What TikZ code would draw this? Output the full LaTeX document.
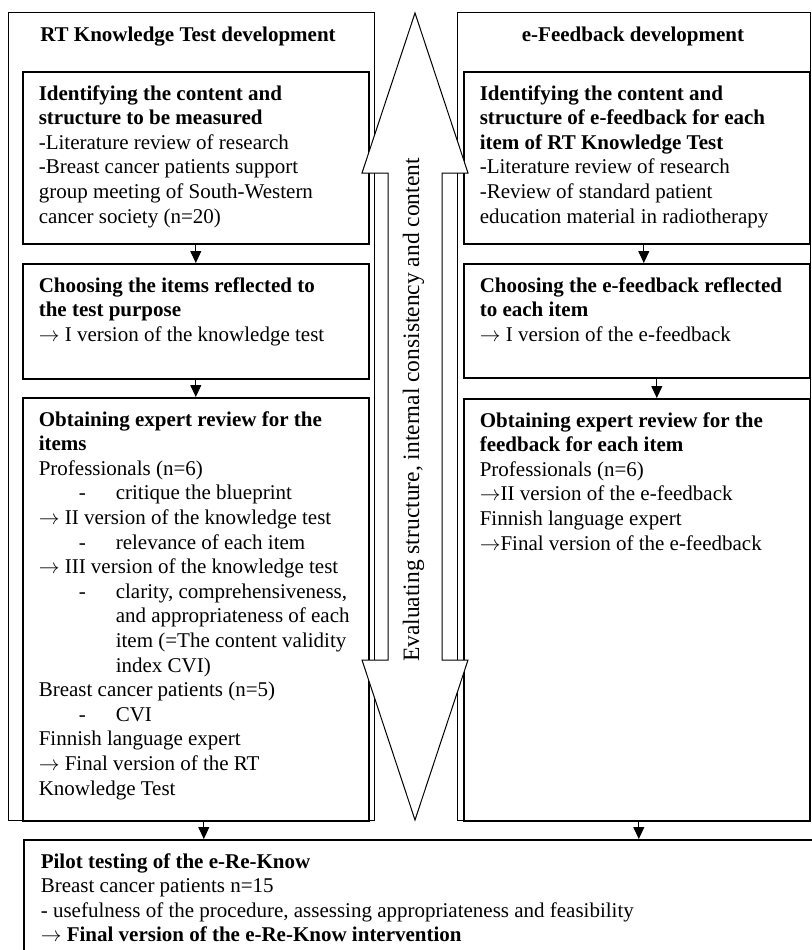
\documentclass[tikz,border=0pt]{standalone}
\usepackage{fontspec}
\setmainfont{Liberation Serif}
\usetikzlibrary{arrows.meta}
\newcommand{\bodyfont}{\fontsize{21}{24.6}\selectfont}
\newcommand{\stagetext}[3]{\parbox[c][#1][t]{#2}{\raggedright\vspace*{13.5pt}#3}}
\newcommand{\dashline}{\makebox[77pt][l]{\hspace*{40pt}-}}
\newcommand{\gapline}{\hspace*{77pt}}
\newcommand{\nextarrow}{$\rightarrow$}
\begin{document}
\begin{tikzpicture}[x=1pt,y=-1pt,font=\bodyfont,
    outerbox/.style={draw,line width=1pt},
    stagebox/.style={draw,line width=1.6pt,anchor=north west,inner xsep=16pt,inner ysep=0pt},
    flowarrow/.style={-{Triangle[length=12pt,width=11pt]},line width=1pt}]
  \useasboundingbox (0,0) rectangle (811,950);
  % the two development columns
  \draw[outerbox] (8,13) rectangle (374,820);
  \draw[outerbox] (457,13) rectangle (810,820);
  \node[anchor=base,font=\bodyfont\bfseries] (lefttitle) at (188,42) {RT Knowledge Test development};
  \node[anchor=base,font=\bodyfont\bfseries] (righttitle) at (633,42) {e-Feedback development};
  % knowledge test steps
  \node[stagebox] (lident) at (22,71) {\stagetext{172pt}{314pt}{\textbf{Identifying the content and\\structure to be measured}\\-Literature review of research\\-Breast cancer patients support\\group meeting of South-Western\\cancer society (n=20)}};
  \node[stagebox] (lchoose) at (22,263) {\stagetext{115pt}{314pt}{\textbf{Choosing the items reflected to\\the test purpose}\\\nextarrow{} I version of the knowledge test}};
  \node[stagebox] (lreview) at (22,397) {\stagetext{423pt}{314pt}{\textbf{Obtaining expert review for the\\items}\\Professionals (n=6)\\\dashline critique the blueprint\\\nextarrow{} II version of the knowledge test\\\dashline relevance of each item\\\nextarrow{} III version of the knowledge test\\\dashline clarity, comprehensiveness,\\\gapline and appropriateness of each\\\gapline item (=The content validity\\\gapline index CVI)\\Breast cancer patients (n=5)\\\dashline CVI\\Finnish language expert\\\nextarrow{} Final version of the RT\\Knowledge Test}};
  % feedback steps
  \node[stagebox] (rident) at (463,71) {\stagetext{172pt}{314pt}{\textbf{Identifying the content and\\structure of e-feedback for each\\item of RT Knowledge Test}\\-Literature review of research\\-Review of standard patient\\education material in radiotherapy}};
  \node[stagebox] (rchoose) at (463,263) {\stagetext{114pt}{314pt}{\textbf{Choosing the e-feedback reflected\\to each item}\\\nextarrow{} I version of the e-feedback}};
  \node[stagebox] (rreview) at (463,398) {\stagetext{422pt}{314pt}{\textbf{Obtaining expert review for the\\feedback for each item}\\Professionals (n=6)\\\nextarrow II version of the e-feedback\\Finnish language expert\\\nextarrow Final version of the e-feedback}};
  % pilot
  \node[stagebox,inner xsep=17pt] (pilot) at (23,839) {\stagetext{120pt}{760pt}{\textbf{Pilot testing of the e-Re-Know}\\Breast cancer patients n=15\\- usefulness of the procedure, assessing appropriateness and feasibility\\\nextarrow{} \textbf{Final version of the e-Re-Know intervention}}};
  \draw[flowarrow] (lident) -- (lchoose);
  \draw[flowarrow] (lchoose) -- (lreview);
  \draw[flowarrow] ([xshift=7pt]rident.south) -- ([xshift=7pt]rchoose.north);
  \draw[flowarrow] ([xshift=20pt]rchoose.south) -- ([xshift=20pt]rreview.north);
  \draw[flowarrow] ([xshift=8pt]lreview.south) -- ([xshift=8pt]lreview.south |- pilot.north);
  \draw[flowarrow] ([xshift=2pt]rreview.south) -- ([xshift=2pt]rreview.south |- pilot.north);
  % evaluation double arrow
  \draw[line width=1pt,fill=white] (415,13) -- (468,173) -- (442,173) -- (442,660) -- (468,660) -- (415,820)
    -- (362,660) -- (388,660) -- (388,173) -- (362,173) -- cycle;
  \node[rotate=90,font=\fontsize{23.5}{28}\selectfont] (evaltext) at (413.5,410) {Evaluating structure, internal consistency and content};
\end{tikzpicture}
\end{document}
